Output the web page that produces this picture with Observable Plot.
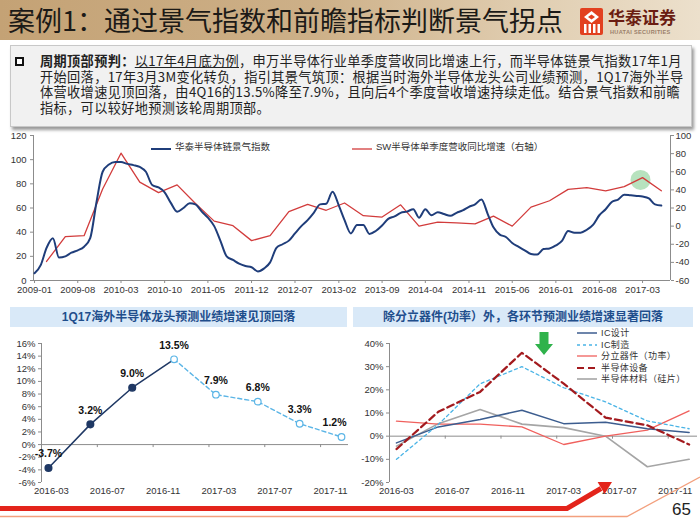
<!DOCTYPE html>
<html><head><meta charset="utf-8">
<script src="https://cdn.jsdelivr.net/npm/d3@7"></script>
<script src="https://cdn.jsdelivr.net/npm/@observablehq/plot@0.6"></script>
<style>
html,body{margin:0;padding:0;background:#fff;}
#page{position:relative;width:700px;height:525px;overflow:hidden;font-family:"Liberation Sans",Arial,"Noto Sans CJK SC",sans-serif;}
.abs{position:absolute;}
#header{left:0;top:0;width:700px;height:40px;background:linear-gradient(to right,#c4a275 0%,#cdb088 45%,#e0cdb0 75%,#ece0cc 100%);}
#title{left:8px;top:2px;font-size:27px;line-height:36px;color:#1c1a17;font-family:"Noto Sans CJK SC",sans-serif;white-space:nowrap;}
#box{left:10px;top:45px;width:680px;height:80px;background:#f1f1f1;border:1px solid #c8c8c8;box-shadow:2px 3px 3px #9a9a9a;}
#bullet{left:15px;top:57px;width:5px;height:5px;border:2px solid #111;background:#fff;}
.pl{position:absolute;left:40px;font-size:13.2px;line-height:14px;height:14px;letter-spacing:0.35px;color:#222;white-space:nowrap;font-family:"Noto Sans CJK SC",sans-serif;}
.banner{top:307px;height:20px;background:#d9e9f8;color:#1f4e8c;font-weight:bold;font-size:12px;line-height:20px;text-align:center;font-family:"Liberation Sans","Noto Sans CJK SC",sans-serif;white-space:nowrap;}
.leg{font-size:9.5px;color:#333;white-space:nowrap;font-family:"Liberation Sans","Noto Sans CJK SC",sans-serif;}
</style></head>
<body><div id="page">
<div id="header" class="abs"></div>
<div id="title" class="abs">案例1：通过景气指数和前瞻指标判断景气拐点</div>
<svg class="abs" style="left:580px;top:8px" width="24" height="28">
  <rect x="0" y="0" width="23" height="27" rx="2" fill="#e2401f"/>
  <path d="M11.5,3 L19,9 L11.5,15 L4,9 Z" fill="#fff"/>
  <path d="M11.5,6.5 L15,9 L11.5,11.5 L8,9 Z" fill="#e2401f"/>
  <rect x="4" y="16" width="2.5" height="9" fill="#fff"/>
  <rect x="8.5" y="16" width="2.5" height="9" fill="#fff"/>
  <rect x="13" y="16" width="2.5" height="9" fill="#fff"/>
  <rect x="17.5" y="16" width="2.5" height="9" fill="#fff"/>
</svg>
<div class="abs" style="left:608px;top:7px;font-size:17px;font-weight:bold;color:#6b1d12;font-family:'Noto Sans CJK SC',sans-serif;line-height:20px;white-space:nowrap;">华泰证券</div>
<div class="abs" style="left:610px;top:29px;font-size:5.6px;color:#9b7f6a;letter-spacing:0.3px;white-space:nowrap;font-weight:bold;">HUATAI SECURITIES</div>

<div id="box" class="abs"></div>
<div id="bullet" class="abs"></div>
<div class="pl" style="top:54px;"><b>周期顶部预判：</b><span style="text-decoration:underline">以17年4月底为例</span>，申万半导体行业单季度营收同比增速上行，而半导体链景气指数17年1月</div>
<div class="pl" style="top:69.5px;">开始回落，17年3月3M变化转负，指引其景气筑顶：根据当时海外半导体龙头公司业绩预测，1Q17海外半导</div>
<div class="pl" style="top:85px;">体营收增速见顶回落，由4Q16的13.5%降至7.9%，且向后4个季度营收增速持续走低。结合景气指数和前瞻</div>
<div class="pl" style="top:100.5px;">指标，可以较好地预测该轮周期顶部。</div>

<div id="topChart" class="abs" style="left:0;top:125px;"></div>
<div class="abs" style="left:151px;top:140px;"><svg width="20" height="10"><line x1="0" y1="5" x2="20" y2="5" stroke="#1f3d7a" stroke-width="2"/></svg></div>
<div class="abs leg" style="left:175px;top:139px;">华泰半导体链景气指数</div>
<div class="abs" style="left:352px;top:140px;"><svg width="20" height="10"><line x1="0" y1="5" x2="20" y2="5" stroke="#d23c3c" stroke-width="1.3"/></svg></div>
<div class="abs leg" style="left:376px;top:139px;">SW半导体单季度营收同比增速（右轴）</div>

<div class="abs banner" style="left:10px;width:337px;">1Q17海外半导体龙头预测业绩增速见顶回落</div>
<div class="abs banner" style="left:353px;width:340px;">除分立器件(功率）外，各环节预测业绩增速显著回落</div>

<div id="blChart" class="abs" style="left:0;top:330px;"></div>
<div id="brChart" class="abs" style="left:350px;top:330px;"></div>
<div id="brLegend" class="abs" style="left:577px;top:327px;"></div>

<svg class="abs" style="left:0;top:0;pointer-events:none" width="700" height="525">
  <path d="M539.5,332 H548.5 V344 H553 L544,355 L535,344 H539.5 Z" fill="#2fb24b"/>
  <path d="M0,508.5 H567 L601,488.5" stroke="#e3241b" stroke-width="5" fill="none"/>
  <polygon points="612,482 604.6,494 597.6,482" fill="#e3241b"/>
  <path d="M0,516.5 H627 L700,477" stroke="#f3a07e" stroke-width="1.3" fill="none"/>
</svg>
<div class="abs" style="left:672px;top:500px;font-size:17px;color:#222;">65</div>
</div>

<script>
// ---------- Top chart data ----------
const blueStart = "2009-01";
const blueValues = [6,13,27,35,19,20,23,25,28,35,
 65,90,96,98,98,96.5,95.5,94,90,79,
 77,73,64,57,60,64,63,57,52,45,
 33,20,17,14,12,11,7.5,10,15,27,
 30,33,39,45,50,56,63,63.5,73.5,62,
 50,39,46,46,38.5,41,45.5,51,53,56,
 57,59,52,59,54,56.5,55,53.5,56,58,
 61,63,67,55,44,38,36,31,28,25,
 22,21.5,26,26.5,29,33,41,39.5,39.5,42,
 46,54,59,65,67,71,70.5,70,69.5,68,
 63,62];
const redQuarters = ["2009-03","2009-06","2009-09","2009-12","2010-03","2010-06","2010-09","2010-12",
 "2011-03","2011-06","2011-09","2011-12","2012-03","2012-06","2012-09","2012-12",
 "2013-03","2013-06","2013-09","2013-12","2014-03","2014-06","2014-09","2014-12",
 "2015-03","2015-06","2015-09","2015-12","2016-03","2016-06","2016-09","2016-12",
 "2017-03","2017-06"];
const redValues = [-39,-11.5,-10.5,41,80.5,48.5,37,45.5,
 25,5.5,0.5,-16,-10.5,16,24,17.5,
 25.5,11.5,10,23.5,0,4.5,3.5,2.5,
 11,0,21,28,40.5,42.5,39,43.5,
 53.5,39];
const topTicks = ["2009-01","2009-08","2010-03","2010-10","2011-05","2011-12","2012-07","2013-02",
 "2013-09","2014-04","2014-11","2015-06","2016-01","2016-08","2017-03"];
const leftTicks = [0,20,40,60,80,100,120];
const rightTicks = [-60,-40,-20,0,20,40,60,80,100];
const highlight = [{date:"2017-02-19", value:51}];

// ---------- Bottom-left data ----------
const quarters = ["2016-03","2016-06","2016-09","2016-12","2017-03","2017-06","2017-09","2017-12"];
const bottomLabels = ["2016-03","2016-07","2016-11","2017-03","2017-07","2017-11"];
const overseasGrowth = [-3.7,3.2,9.0,13.5,7.9,6.8,3.3,1.2];
const actualCount = 4; // 2016-03 .. 2016-12 are actual, rest forecast
const blTicks = [-6,-4,-2,0,2,4,6,8,10,12,14,16];

// ---------- Bottom-right data ----------
const segNames = ["IC设计","IC制造","分立器件（功率）","半导体设备","半导体材料（硅片）"];
const icDesign = [-2.9,4.0,7.2,11.2,5.4,6.0,3.2,1.6];
const icFab = [-10,5,22.6,30,20.9,14.8,6.6,3.2];
const discrete = [6.5,5.2,5.2,4.0,-3.6,0,2.6,10.9];
const equipment = [-5.6,10.5,19.1,36,22.7,8.0,4.7,-3.6];
const materials = [-4.3,5.4,11.5,5.2,3.7,0,-13.2,-10];
const brTicks = [-20,-10,0,10,20,30,40];

// ---------- helpers ----------
const parseM = d3.utcParse("%Y-%m");
const parseD = d3.utcParse("%Y-%m-%d");
const fmtM = d3.utcFormat("%Y-%m");
const monthIdx = s => { const [y,m] = s.split("-").map(Number); return (y-2016)*12 + m; };
const axisGray = "#8c8c8c";
const txt = "#333";
const baseStyle = {fontSize:"9.5px", fontFamily:"'Liberation Sans', Arial, sans-serif", background:"transparent", overflow:"visible", color:txt};

// ---------- Top chart ----------
const blue = blueValues.map((v,i) => ({date: d3.utcMonth.offset(parseM(blueStart), i), value: v}));
const red = redQuarters.map((q,i) => ({date: parseM(q), value: redValues[i]}));
const toLeft = r => (r + 60) * 0.75;
const xDom = [parseD("2008-12-27"), parseD("2017-07-16")];

const topPlot = Plot.plot({
  width: 700, height: 175,
  marginLeft: 33, marginRight: 30, marginTop: 10, marginBottom: 20,
  style: baseStyle,
  x: {type: "utc", domain: xDom},
  y: {domain: [0, 120]},
  marks: [
    Plot.ruleY([0], {stroke: axisGray}),
    Plot.ruleX([xDom[0]], {stroke: axisGray}),
    Plot.ruleX([xDom[1]], {stroke: axisGray}),
    Plot.axisY(leftTicks, {anchor: "left", tickSize: 3, tickPadding: 4, stroke: axisGray, fill: txt, label: null}),
    Plot.axisY(rightTicks.map(toLeft), {anchor: "right", tickSize: 3, tickPadding: 2, stroke: axisGray, fill: txt, label: null,
      tickFormat: v => String(Math.round(v/0.75 - 60))}),
    Plot.axisX(topTicks.map(parseM), {anchor: "bottom", tickSize: 3, tickPadding: 3, stroke: axisGray, fill: txt, label: null, tickFormat: fmtM}),
    Plot.dot(highlight, {x: d => parseD(d.date), y: d => toLeft(d.value), r: 10, fill: "#9fd8a8", fillOpacity: 0.75}),
    Plot.line(red, {x: "date", y: d => toLeft(d.value), stroke: "#d23c3c", strokeWidth: 1.3}),
    Plot.line(blue, {x: "date", y: "value", stroke: "#1f3d7a", strokeWidth: 2, curve: "monotone-x"})
  ]
});
document.getElementById("topChart").appendChild(topPlot);

// ---------- Bottom-left chart ----------
const bl = quarters.map((q,i) => ({m: monthIdx(q), v: overseasGrowth[i], i}));
const blActual = bl.slice(0, actualCount);
const blForecast = bl.slice(actualCount - 1);
const labelMonths = bottomLabels.map(monthIdx);
const tickMarks = labelMonths.slice(1).map(m => m - 0.5);
const xDomB = [labelMonths[0] - 0.5, monthIdx(quarters[quarters.length-1]) + 0.5];

const blPlot = Plot.plot({
  width: 350, height: 172,
  marginLeft: 41, marginRight: 2, marginTop: 13, marginBottom: 20,
  style: baseStyle,
  x: {domain: xDomB},
  y: {domain: [-6, 16]},
  marks: [
    Plot.ruleX([xDomB[0]], {stroke: axisGray}),
    Plot.ruleY([0], {stroke: axisGray}),
    Plot.ruleX(tickMarks, {x: d => d, y1: 0, y2: 0, insetBottom: -3, stroke: axisGray}),
    Plot.axisY(blTicks, {anchor: "left", tickSize: 3, tickPadding: 3, stroke: axisGray, fill: txt, label: null, tickFormat: d => d + "%"}),
    Plot.axisX(labelMonths, {anchor: "bottom", tickSize: 0, tickPadding: 5, fill: txt, label: null, dx: 3,
      tickFormat: (d,i) => bottomLabels[i]}),
    Plot.line(blForecast, {x: "m", y: "v", stroke: "#5bb5e6", strokeWidth: 1.4, strokeDasharray: "4,3"}),
    Plot.line(blActual, {x: "m", y: "v", stroke: "#1f3864", strokeWidth: 1.5}),
    Plot.dot(blActual.slice(0, actualCount - 1), {x: "m", y: "v", r: 3.3, fill: "#1f3864", stroke: "#1f3864"}),
    Plot.dot(blForecast, {x: "m", y: "v", r: 3.3, fill: "#fff", stroke: "#5bb5e6", strokeWidth: 1.2}),
    Plot.text(bl.slice(0, bl.length - 1), {x: "m", y: "v", text: d => d.v.toFixed(1) + "%", dy: -14,
      fontWeight: "bold", fontSize: 10.5, fill: "#111"}),
    Plot.text(bl.slice(bl.length - 1), {x: "m", y: "v", text: d => d.v.toFixed(1) + "%", dy: -14, dx: -7,
      fontWeight: "bold", fontSize: 10.5, fill: "#111"})
  ]
});
document.getElementById("blChart").appendChild(blPlot);

// ---------- Bottom-right chart ----------
const seriesDefs = [
  {name: segNames[0], values: icDesign, stroke: "#3c5d8f", width: 1.5, dash: null},
  {name: segNames[1], values: icFab, stroke: "#4ab4e6", width: 1.3, dash: "3,3"},
  {name: segNames[2], values: discrete, stroke: "#f0605d", width: 1.3, dash: null},
  {name: segNames[3], values: equipment, stroke: "#a31a1e", width: 2.2, dash: "7,4"},
  {name: segNames[4], values: materials, stroke: "#a5a5a5", width: 1.6, dash: null}
];
const brMarks = [
  Plot.ruleX([xDomB[0]], {stroke: axisGray}),
  Plot.ruleY([0], {stroke: axisGray}),
  Plot.ruleX(tickMarks, {x: d => d, y1: 0, y2: 0, insetBottom: -3, stroke: axisGray}),
  Plot.axisY(brTicks, {anchor: "left", tickSize: 3, tickPadding: 3, stroke: axisGray, fill: txt, label: null, tickFormat: d => d + "%"}),
  Plot.axisX(labelMonths, {anchor: "bottom", tickSize: 0, tickPadding: 5, fill: txt, label: null,
    tickFormat: (d,i) => bottomLabels[i]})
];
for (const s of [seriesDefs[4], seriesDefs[2], seriesDefs[0], seriesDefs[1], seriesDefs[3]]) {
  const data = quarters.map((q,i) => ({m: monthIdx(q), v: s.values[i]}));
  brMarks.push(Plot.line(data, {x: "m", y: "v", stroke: s.stroke, strokeWidth: s.width, strokeDasharray: s.dash || undefined}));
}
const brPlot = Plot.plot({
  width: 350, height: 172,
  marginLeft: 39, marginRight: 3, marginTop: 13, marginBottom: 20,
  style: baseStyle,
  x: {domain: [xDomB[0], xDomB[1] + 0.1]},
  y: {domain: [-20, 40]},
  marks: brMarks
});
document.getElementById("brChart").appendChild(brPlot);

// legend
const leg = document.getElementById("brLegend");
seriesDefs.forEach((s, i) => {
  const row = document.createElement("div");
  row.className = "leg";
  row.style.cssText = "position:absolute;left:0;top:" + (i * 11.5) + "px;height:12px;line-height:12px;font-size:9px;";
  row.innerHTML = '<svg width="20" height="12" style="vertical-align:top"><line x1="0" y1="6" x2="20" y2="6" stroke="' + s.stroke +
    '" stroke-width="' + s.width + '"' + (s.dash ? ' stroke-dasharray="' + s.dash + '"' : '') + '/></svg>' +
    '<span style="margin-left:4px;letter-spacing:0.4px">' + s.name + '</span>';
  leg.appendChild(row);
});
</script>
</body></html>
